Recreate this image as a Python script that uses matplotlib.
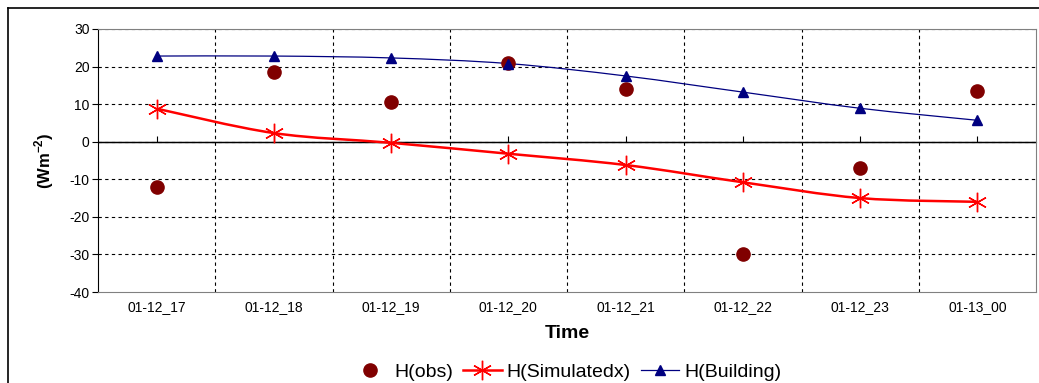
import numpy as np
import matplotlib
matplotlib.use("Agg")
import matplotlib.pyplot as plt
from matplotlib.path import Path
from matplotlib.patches import PathPatch
from matplotlib.lines import Line2D

plt.rcParams["font.family"] = ["Liberation Sans", "DejaVu Sans"]
plt.rcParams["axes.unicode_minus"] = False

# data
times = ["01-12_17", "01-12_18", "01-12_19", "01-12_20",
         "01-12_21", "01-12_22", "01-12_23", "01-13_00"]
h_obs = [-12, 18.5, 10.5, 21, 14, -30, -7, 13.5]
h_sim = [8.8, 2.3, -0.3, -3.2, -6.2, -10.8, -15, -16]
h_bld = [22.8, 22.8, 22.3, 20.8, 17.5, 13.2, 8.9, 5.7]


def smooth_path(x, y):
    # Excel style smoothed line: cubic bezier segments through each point
    pts = np.column_stack([x, y]).astype(float)
    n = len(pts)
    verts = [pts[0]]
    codes = [Path.MOVETO]
    for i in range(n - 1):
        p0 = pts[max(i - 1, 0)]
        p1 = pts[i]
        p2 = pts[i + 1]
        p3 = pts[min(i + 2, n - 1)]
        c1 = p1 + (p2 - p0) / 6.0
        c2 = p2 - (p3 - p1) / 6.0
        verts += [c1, c2, p2]
        codes += [Path.CURVE4] * 3
    return Path(verts, codes)


fig = plt.figure(figsize=(10.39, 3.83), dpi=100)
ax = fig.add_axes([98 / 1039, 91 / 383, 938 / 1039, 263 / 383])

xs = np.arange(len(times))

# grid
for yv in range(-30, 31, 10):
    ax.axhline(yv, color="black", lw=0.8, ls=(0, (3, 3)), zorder=1)
for xv in np.arange(0.5, len(times) - 0.5, 1):
    ax.axvline(xv, color="black", lw=0.8, ls=(0, (3, 3)), zorder=1)
ax.axhline(0, color="black", lw=1.0, zorder=2)

ax.add_patch(PathPatch(smooth_path(xs, h_sim), fill=False, ec="red", lw=1.8, zorder=3))
ax.add_patch(PathPatch(smooth_path(xs, h_bld), fill=False, ec="#000080", lw=0.9, zorder=3))

ax.plot(xs, h_obs, ls="none", marker="o", ms=9.5, color="#800000", zorder=4)
ax.plot(xs, h_sim, ls="none", marker=(6, 2, 0), ms=14, mew=1.0, color="red", zorder=4)
ax.plot(xs, h_bld, ls="none", marker="^", ms=7, color="#000080", zorder=4)

ax.set_xlim(-0.5, len(times) - 0.5)
ax.set_ylim(-40, 30)
ax.set_yticks(range(-40, 31, 10))
ax.set_xticks(xs)
ax.set_xticklabels(times)
ax.tick_params(axis="x", length=0, pad=6, labelsize=10)
ax.tick_params(axis="y", length=4, direction="out", labelsize=10, pad=2)

for s in ["top", "right", "bottom"]:
    ax.spines[s].set_color("#808080")
    ax.spines[s].set_linewidth(0.8)
ax.spines["left"].set_color("black")

# small ticks on the zero line
sec = ax.secondary_xaxis(40 / 70)
sec.set_xticks(xs)
sec.tick_params(length=4, direction="out", labelbottom=False, labeltop=False)
sec.spines["bottom"].set_visible(False)

ax.set_xlabel("Time", fontsize=14, fontweight="bold", labelpad=8)
ax.set_ylabel("(Wm$^{\\mathregular{-2}}$)", fontsize=12, fontweight="bold", labelpad=10)

handles = [
    Line2D([], [], ls="none", marker="o", ms=9.5, color="#800000"),
    Line2D([], [], color="red", lw=1.8, marker=(6, 2, 0), ms=14, mew=1.0),
    Line2D([], [], color="#000080", lw=0.9, marker="^", ms=7),
]
fig.legend(handles, ["H(obs)", "H(Simulatedx)", "H(Building)"],
           loc="center", bbox_to_anchor=(566 / 1039, 1 - 372 / 383), ncol=3,
           frameon=False, fontsize=14, handlelength=2.0, columnspacing=0.5,
           handletextpad=0.25)

# outer chart border
fig.add_artist(Line2D([8 / 1039, 1], [1 - 8 / 383, 1 - 8 / 383],
                      transform=fig.transFigure, color="black", lw=1.2))
fig.add_artist(Line2D([8 / 1039, 8 / 1039], [0, 1 - 8 / 383],
                      transform=fig.transFigure, color="black", lw=1.2))

fig.savefig("out.png", dpi=100)
